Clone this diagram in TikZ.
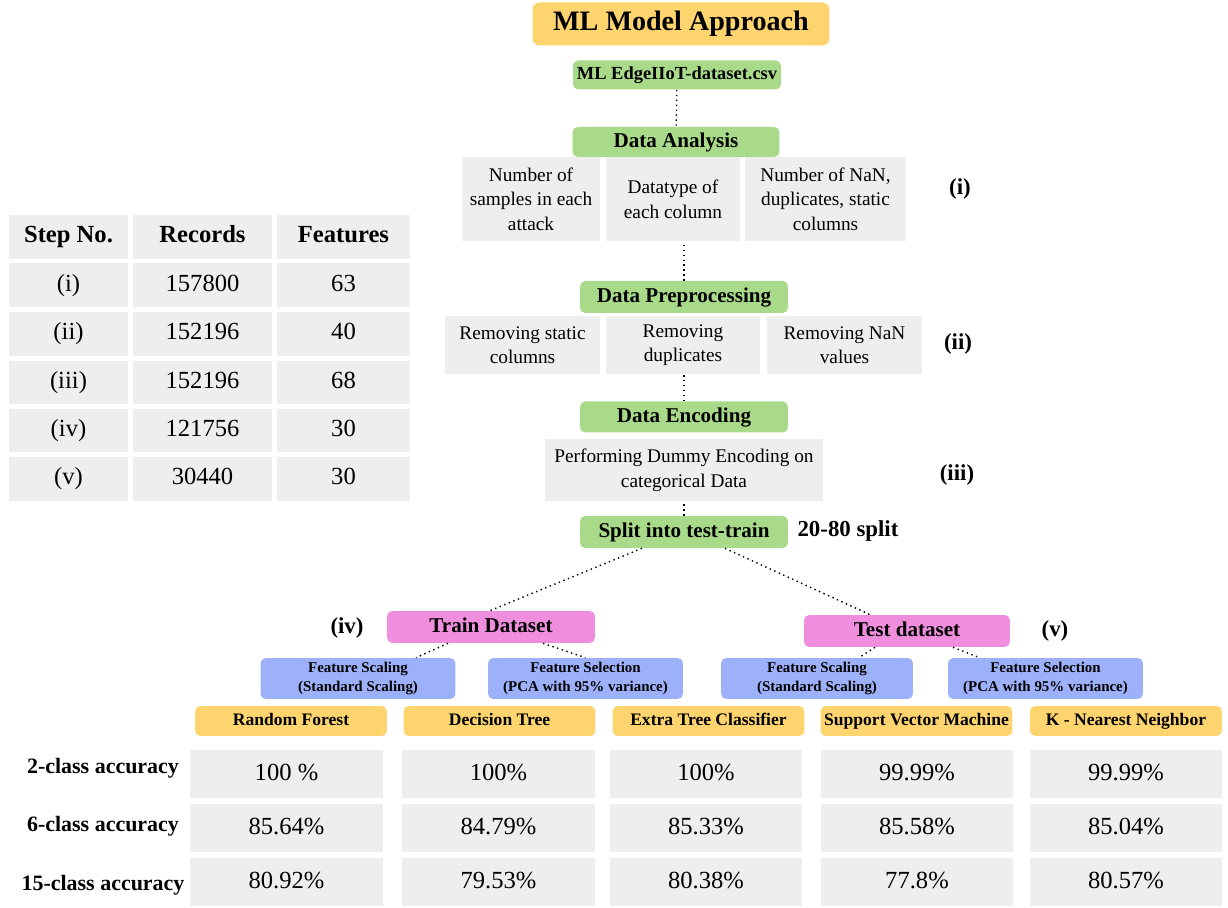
\documentclass[tikz,border=0pt]{standalone}
\usepackage{fontspec}
\setmainfont{Liberation Serif}
\usepackage{tikz}
\usetikzlibrary{positioning}

\definecolor{boxyellow}{RGB}{254,212,110}
\definecolor{boxgreen}{RGB}{169,218,138}
\definecolor{boxpink}{RGB}{240,142,222}
\definecolor{boxblue}{RGB}{157,176,250}
\definecolor{boxgray}{RGB}{238,238,238}

\begin{document}
\begin{tikzpicture}[x=0.02cm, y=-0.02cm]

\tikzstyle{title} = [rectangle, rounded corners=4pt, minimum width=5.94cm, minimum height=0.86cm, text centered, fill=boxyellow, font=\fontsize{16}{18}\selectfont\bfseries]
\tikzstyle{stage} = [rectangle, rounded corners=3pt, minimum width=4.16cm, minimum height=0.62cm, inner sep=0pt, text height=8.5pt, text depth=2.5pt, text centered, fill=boxgreen, font=\fontsize{12}{14}\selectfont\bfseries]
\tikzstyle{info} = [rectangle, minimum height=1.68cm, inner sep=0pt, align=center, fill=boxgray, font=\fontsize{11}{14}\selectfont]
\tikzstyle{dataset} = [rectangle, rounded corners=3pt, minimum width=4.16cm, minimum height=0.64cm, inner sep=0pt, text height=8.5pt, text depth=2.5pt, text centered, fill=boxpink, font=\fontsize{12}{14}\selectfont\bfseries]
\tikzstyle{prep} = [rectangle, rounded corners=3pt, minimum width=3.9cm, minimum height=0.82cm, inner sep=0pt, align=center, fill=boxblue, font=\fontsize{8.5}{10.5}\selectfont\bfseries]
\tikzstyle{model} = [rectangle, rounded corners=3pt, minimum width=3.84cm, minimum height=0.6cm, inner sep=0pt, text height=7pt, text depth=2pt, text centered, fill=boxyellow, font=\fontsize{10}{12}\selectfont\bfseries]
\tikzstyle{cell} = [rectangle, minimum width=3.86cm, minimum height=0.96cm, inner sep=0pt, text height=10pt, text depth=3pt, text centered, fill=boxgray, font=\fontsize{14}{16}\selectfont]
\tikzstyle{tab} = [rectangle, minimum height=0.88cm, inner sep=0pt, text height=10pt, text depth=3.5pt, text centered, fill=boxgray, font=\fontsize{14}{16}\selectfont]
\tikzstyle{lbl} = [font=\fontsize{13}{15}\selectfont\bfseries]
\tikzstyle{link} = [dotted, line width=0.8pt]

\useasboundingbox (0,0) rectangle (1228,908);

% pipeline
\node (title) [title] at (681,24) {ML Model Approach};
\node (csv) [stage, minimum height=0.58cm, text height=7.5pt, text depth=2pt, font=\fontsize{10.5}{12}\selectfont\bfseries] at (677,75) {ML EdgeIIoT-dataset.csv};
\node (ana) [stage, minimum width=4.14cm, minimum height=0.6cm] at (676,142) {Data Analysis};
\node (ana1) [info, minimum width=2.76cm] at (531,199) {Number of\\samples in each\\attack};
\node (ana2) [info, minimum width=2.68cm] at (673,199) {Datatype of\\each column};
\node (ana3) [info, minimum width=3.22cm] at (825.5,199) {Number of NaN,\\duplicates, static\\columns};
\node (pre) [stage, minimum height=0.64cm] at (684,297) {Data Preprocessing};
\node (pre1) [info, minimum width=3.1cm, minimum height=1.16cm] at (522.5,345) {Removing static\\columns};
\node (pre2) [info, minimum width=3.08cm, minimum height=1.16cm] at (683,345) {Removing\\duplicates};
\node (pre3) [info, minimum width=3.1cm, minimum height=1.16cm] at (844.5,345) {Removing NaN\\values};
\node (enc) [stage] at (684,417) {Data Encoding};
\node (enc1) [info, minimum width=5.56cm, minimum height=1.24cm] at (684,470) {Performing Dummy Encoding on\\categorical Data};
\node (spl) [stage, minimum height=0.64cm] at (684,532) {Split into test-train};
\node (train) [dataset] at (491,627) {Train Dataset};
\node (test) [dataset, minimum width=4.12cm] at (907,631) {Test dataset};
\node (fs1) [prep] at (358,678.5) {Feature Scaling\\(Standard Scaling)};
\node (fsel1) [prep] at (585.5,678.5) {Feature Selection\\(PCA with 95\% variance)};
\node (fs2) [prep, minimum width=3.84cm] at (817,678.5) {Feature Scaling\\(Standard Scaling)};
\node (fsel2) [prep] at (1045.5,678.5) {Feature Selection\\(PCA with 95\% variance)};

\node (l1) [lbl] at (960,189) {(i)};
\node (l2) [lbl] at (958,344) {(ii)};
\node (l3) [lbl] at (957,475) {(iii)};
\node (splitlbl) [lbl] at (848,531) {20-80 split};
\node (l4) [lbl] at (347,628) {(iv)};
\node (l5) [lbl] at (1055,631) {(v)};

\draw [link] (csv) -- (ana);
\draw [link] (pre.north) -- (pre.north |- ana2.south);
\draw [link] (enc.north) -- (enc.north |- pre2.south);
\draw [link] (spl.north) -- (spl.north |- enc1.south);
\draw [link] ([xshift=-0.84cm]spl.south) -- ([xshift=-0.02cm]train.north);
\draw [link] ([xshift=0.82cm]spl.south) -- ([xshift=-0.74cm]test.north);
\draw [link] ([xshift=-0.86cm]train.south) -- ([xshift=1.16cm]fs1.north);
\draw [link] ([xshift=1.04cm]train.south) -- ([xshift=0cm]fsel1.north);
\draw [link] ([xshift=-0.64cm]test.south) -- ([xshift=0.84cm]fs2.north);
\draw [link] ([xshift=0.92cm]test.south) -- ([xshift=-1.32cm]fsel2.north);

% models and accuracies
\node (m1) [model] at (291,721) {Random Forest};
\node (m2) [model] at (499.5,721) {Decision Tree};
\node (m3) [model] at (708.5,721) {Extra Tree Classifier};
\node (m4) [model] at (916.5,721) {Support Vector Machine};
\node (m5) [model] at (1126,721) {K - Nearest Neighbor};

\node (r1) [lbl, font=\fontsize{12.5}{15}\selectfont\bfseries] at (103,768) {2-class accuracy};
\node (r2) [lbl, font=\fontsize{12.5}{15}\selectfont\bfseries] at (103,826) {6-class accuracy};
\node (r3) [lbl, font=\fontsize{12.5}{15}\selectfont\bfseries] at (103,885) {15-class accuracy};

\node (c11) [cell] at (286.5,774) {100 \%};
\node (c12) [cell] at (498.5,774) {100\%};
\node (c13) [cell] at (706,774) {100\%};
\node (c14) [cell] at (917,774) {99.99\%};
\node (c15) [cell] at (1126,774) {99.99\%};
\node (c21) [cell] at (286.5,828) {85.64\%};
\node (c22) [cell] at (498.5,828) {84.79\%};
\node (c23) [cell] at (706,828) {85.33\%};
\node (c24) [cell] at (917,828) {85.58\%};
\node (c25) [cell] at (1126,828) {85.04\%};
\node (c31) [cell] at (286.5,882) {80.92\%};
\node (c32) [cell] at (498.5,882) {79.53\%};
\node (c33) [cell] at (706,882) {80.38\%};
\node (c34) [cell] at (917,882) {77.8\%};
\node (c35) [cell] at (1126,882) {80.57\%};

% records table
\node (t11) [tab, minimum width=2.38cm, font=\fontsize{14}{16}\selectfont\bfseries] at (68.5,237) {Step No.};
\node (t12) [tab, minimum width=2.78cm, font=\fontsize{14}{16}\selectfont\bfseries] at (202.5,237) {Records};
\node (t13) [tab, minimum width=2.66cm, font=\fontsize{14}{16}\selectfont\bfseries] at (343.5,237) {Features};
\node (t21) [tab, minimum width=2.38cm] at (68.5,285.5) {(i)};
\node (t22) [tab, minimum width=2.78cm] at (202.5,285.5) {157800};
\node (t23) [tab, minimum width=2.66cm] at (343.5,285.5) {63};
\node (t31) [tab, minimum width=2.38cm] at (68.5,334) {(ii)};
\node (t32) [tab, minimum width=2.78cm] at (202.5,334) {152196};
\node (t33) [tab, minimum width=2.66cm] at (343.5,334) {40};
\node (t41) [tab, minimum width=2.38cm] at (68.5,382.5) {(iii)};
\node (t42) [tab, minimum width=2.78cm] at (202.5,382.5) {152196};
\node (t43) [tab, minimum width=2.66cm] at (343.5,382.5) {68};
\node (t51) [tab, minimum width=2.38cm] at (68.5,430.5) {(iv)};
\node (t52) [tab, minimum width=2.78cm] at (202.5,430.5) {121756};
\node (t53) [tab, minimum width=2.66cm] at (343.5,430.5) {30};
\node (t61) [tab, minimum width=2.38cm] at (68.5,479) {(v)};
\node (t62) [tab, minimum width=2.78cm] at (202.5,479) {30440};
\node (t63) [tab, minimum width=2.66cm] at (343.5,479) {30};

\end{tikzpicture}
\end{document}
